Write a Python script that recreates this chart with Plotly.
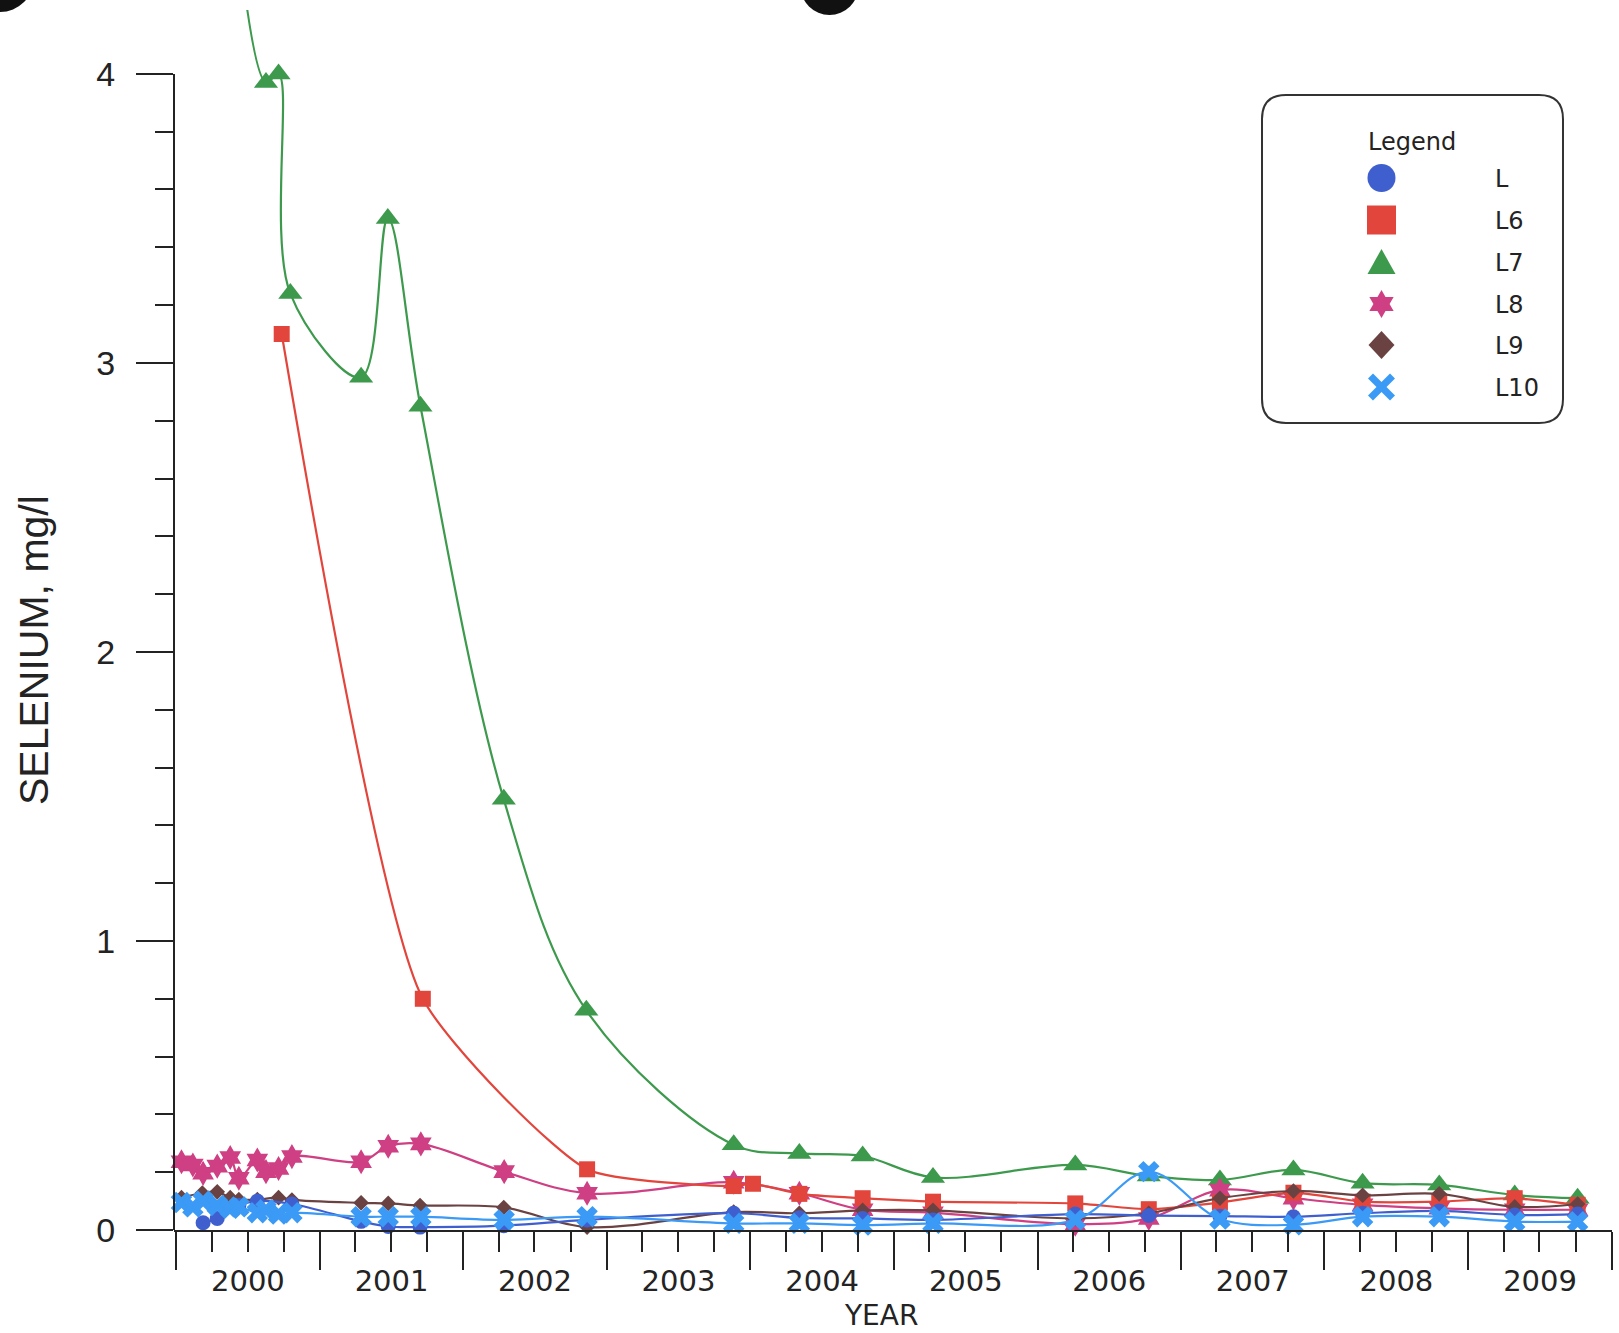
import math
import plotly.graph_objects as go

# ---------------- data: selenium concentration (mg/l) by sampling date ----------------
L_dates = ["2000-03-10", "2000-04-15", "2000-06-09", "2000-07-26", "2000-10-22", "2001-04-16",
           "2001-06-24", "2001-09-13", "2002-04-14", "2002-11-12", "2003-11-20", "2004-05-05",
           "2004-10-13", "2005-04-10", "2006-04-07", "2006-10-11", "2007-04-10", "2007-10-14",
           "2008-04-07", "2008-10-19", "2009-04-29", "2009-10-06"]
L_vals = [0.025, 0.04, 0.085, 0.1, 0.09, 0.03, 0.012, 0.01, 0.015, 0.035, 0.058, 0.042,
          0.04, 0.035, 0.055, 0.05, 0.048, 0.046, 0.058, 0.066, 0.052, 0.055]

L6_dates = ["2000-09-26", "2001-09-20", "2002-11-12", "2003-11-20", "2004-01-08", "2004-05-05",
            "2004-10-13", "2005-04-10", "2006-04-07", "2006-10-11", "2007-04-10", "2007-10-14",
            "2008-04-07", "2008-10-19", "2009-04-29", "2009-10-06"]
L6_vals = [3.10, 0.80, 0.21, 0.152, 0.16, 0.125, 0.11, 0.098, 0.092, 0.072, 0.095, 0.129,
           0.098, 0.098, 0.11, 0.087]

L7_dates = ["2000-05-28", "2000-08-17", "2000-09-18", "2000-10-18", "2001-04-16", "2001-06-23",
            "2001-09-14", "2002-04-14", "2002-11-10", "2003-11-20", "2004-05-05", "2004-10-13",
            "2005-04-10", "2006-04-07", "2006-10-11", "2007-04-10", "2007-10-14", "2008-04-07",
            "2008-10-19", "2009-04-29", "2009-10-06"]
L7_vals = [4.6, 3.97, 4.0, 3.24, 2.95, 3.50, 2.85, 1.49, 0.76, 0.295, 0.265, 0.256,
           0.182, 0.225, 0.187, 0.173, 0.208, 0.162, 0.156, 0.121, 0.11]

L8_dates = ["2000-01-15", "2000-02-13", "2000-03-10", "2000-04-15", "2000-05-18", "2000-06-09",
            "2000-07-26", "2000-08-17", "2000-09-18", "2000-10-22", "2001-04-16", "2001-06-24",
            "2001-09-15", "2002-04-15", "2002-11-12", "2003-11-20", "2004-05-05", "2004-10-13",
            "2005-04-10", "2006-04-07", "2006-10-11", "2007-04-10", "2007-10-14", "2008-04-07",
            "2008-10-19", "2009-04-29", "2009-10-06"]
L8_vals = [0.236, 0.225, 0.196, 0.221, 0.251, 0.179, 0.242, 0.202, 0.213, 0.254, 0.236, 0.29,
           0.298, 0.202, 0.127, 0.165, 0.127, 0.07, 0.06, 0.02, 0.04, 0.138, 0.11, 0.087,
           0.075, 0.07, 0.07]

L9_dates = ["2000-01-15", "2000-03-08", "2000-04-15", "2000-05-18", "2000-06-09", "2000-07-26",
            "2000-09-18", "2000-10-22", "2001-04-16", "2001-06-24", "2001-09-13", "2002-04-14",
            "2002-11-12", "2003-11-20", "2004-05-05", "2004-10-13", "2005-04-10", "2006-04-07",
            "2006-10-11", "2007-04-10", "2007-10-14", "2008-04-07", "2008-10-19", "2009-04-29",
            "2009-10-06"]
L9_vals = [0.112, 0.128, 0.132, 0.112, 0.105, 0.105, 0.112, 0.104, 0.094, 0.092, 0.085, 0.078,
           0.01, 0.062, 0.058, 0.068, 0.068, 0.04, 0.058, 0.11, 0.135, 0.12, 0.125, 0.08, 0.09]

L10_dates = ["2000-01-15", "2000-02-13", "2000-03-10", "2000-04-15", "2000-05-18", "2000-06-09",
             "2000-07-26", "2000-08-17", "2000-09-18", "2000-10-22", "2001-04-16", "2001-06-24",
             "2001-09-15", "2002-04-15", "2002-11-12", "2003-11-20", "2004-05-05", "2004-10-13",
             "2005-04-10", "2006-04-07", "2006-10-11", "2007-04-10", "2007-10-14", "2008-04-07",
             "2008-10-19", "2009-04-29", "2009-10-06"]
L10_vals = [0.095, 0.08, 0.1, 0.085, 0.075, 0.08, 0.06, 0.07, 0.055, 0.06, 0.046, 0.046,
            0.046, 0.035, 0.046, 0.023, 0.023, 0.017, 0.023, 0.035, 0.202, 0.038, 0.018, 0.046,
            0.046, 0.029, 0.029]

y_tick_vals = [0, 1, 2, 3, 4]
y_minor_vals = [0.2, 0.4, 0.6, 0.8, 1.2, 1.4, 1.6, 1.8, 2.2, 2.4, 2.6, 2.8, 3.2, 3.4, 3.6, 3.8]

# ---------------- styling ----------------
INK = "#232323"
styles = {
    "L":   dict(color="#3f5fcf", symbol="circle", size=15, smooth=1.0),
    "L6":  dict(color="#e2453c", symbol="square", size=16, smooth=0.55),
    "L7":  dict(color="#3d9a4d", symbol="triangle-up", size=21, smooth=1.0),
    "L8":  dict(color="#cf3f83", symbol="hexagram", size=19, smooth=1.0),
    "L9":  dict(color="#6b4242", symbol="diamond", size=12, smooth=1.0),
    "L10": dict(color="#3a9af5", symbol="x", size=19, smooth=1.0),
}
series = {
    "L": (L_dates, L_vals), "L6": (L6_dates, L6_vals), "L7": (L7_dates, L7_vals),
    "L8": (L8_dates, L8_vals), "L9": (L9_dates, L9_vals), "L10": (L10_dates, L10_vals),
}
draw_order = ["L7", "L8", "L6", "L9", "L", "L10"]
legend_order = ["L", "L6", "L7", "L8", "L9", "L10"]

fig = go.Figure()
for name in draw_order:
    d, v = series[name]
    st = styles[name]
    fig.add_trace(go.Scatter(
        x=d, y=v, name=name, mode="lines+markers",
        line=dict(color=st["color"], width=2.2, shape="spline", smoothing=st["smooth"]),
        marker=dict(color=st["color"], symbol=st["symbol"], size=st["size"], line=dict(width=0)),
        cliponaxis=False, showlegend=False,
    ))

# plot area in page pixels
PL, PR, PT, PB = 174, 1612, 10, 1230


def fx(px):
    return (px - PL) / (PR - PL)


def fy(py):
    return (PB - py) / (PB - PT)


def P(x, y):
    return f"{fx(x):.5f},{fy(y):.5f}"


def poly(points):
    return "M" + " L".join(P(x, y) for x, y in points) + " Z"


shapes = []
annotations = []

# y axis line running from 0 to 4 only
shapes.append(dict(type="line", xref="paper", yref="y", x0=0, x1=0, y0=0, y1=4,
                   line=dict(color=INK, width=2), layer="above"))

# dark blobs along the top edge of the sheet
for cx, cy, r in [(0, -22, 34), (829.5, -14, 29)]:
    shapes.append(dict(type="circle", xref="paper", yref="paper",
                       x0=fx(cx - r), x1=fx(cx + r), y0=fy(cy + r), y1=fy(cy - r),
                       fillcolor="#111111", line=dict(width=0), layer="above"))

# legend box with rounded corners
bx0, by0, bx1, by1, rr = 1262, 95, 1563, 423, 24
box = (f"M{P(bx0 + rr, by0)} L{P(bx1 - rr, by0)} Q{P(bx1, by0)} {P(bx1, by0 + rr)} "
       f"L{P(bx1, by1 - rr)} Q{P(bx1, by1)} {P(bx1 - rr, by1)} L{P(bx0 + rr, by1)} "
       f"Q{P(bx0, by1)} {P(bx0, by1 - rr)} L{P(bx0, by0 + rr)} Q{P(bx0, by0)} {P(bx0 + rr, by0)} Z")
shapes.append(dict(type="path", xref="paper", yref="paper", path=box,
                   fillcolor="white", line=dict(color="#333333", width=2), layer="above"))

annotations.append(dict(text="Legend", xref="paper", yref="paper", x=fx(1412), y=fy(142),
                        xanchor="center", yanchor="middle", showarrow=False,
                        font=dict(family="DejaVu Sans", size=24, color=INK)))

key_x = 1381.5
row_y = [178, 220, 262, 304, 345, 387]

for name, ky in zip(legend_order, row_y):
    col = styles[name]["color"]
    sym = styles[name]["symbol"]
    if sym == "circle":
        shapes.append(dict(type="circle", xref="paper", yref="paper",
                           x0=fx(key_x - 14), x1=fx(key_x + 14), y0=fy(ky + 14), y1=fy(ky - 14),
                           fillcolor=col, line=dict(width=0), layer="above"))
    elif sym == "square":
        shapes.append(dict(type="rect", xref="paper", yref="paper",
                           x0=fx(key_x - 14.5), x1=fx(key_x + 14.5), y0=fy(ky + 14.5), y1=fy(ky - 14.5),
                           fillcolor=col, line=dict(width=0), layer="above"))
    elif sym == "triangle-up":
        pts = [(key_x - 14, ky + 12), (key_x + 14, ky + 12), (key_x, ky - 13)]
        shapes.append(dict(type="path", xref="paper", yref="paper", path=poly(pts),
                           fillcolor=col, line=dict(width=0), layer="above"))
    elif sym == "hexagram":
        R, Ri = 14, 14 / math.sqrt(3)
        pts = []
        for k in range(12):
            ang = math.radians(90 + 30 * k)
            rad = R if k % 2 == 0 else Ri
            pts.append((key_x + rad * math.cos(ang), ky - rad * math.sin(ang)))
        shapes.append(dict(type="path", xref="paper", yref="paper", path=poly(pts),
                           fillcolor=col, line=dict(width=0), layer="above"))
    elif sym == "diamond":
        pts = [(key_x, ky - 14), (key_x + 13, ky), (key_x, ky + 14), (key_x - 13, ky)]
        shapes.append(dict(type="path", xref="paper", yref="paper", path=poly(pts),
                           fillcolor=col, line=dict(width=0), layer="above"))
    elif sym == "x":
        for sx in (-1, 1):
            shapes.append(dict(type="line", xref="paper", yref="paper",
                               x0=fx(key_x - 11 * sx), x1=fx(key_x + 11 * sx),
                               y0=fy(ky - 11), y1=fy(ky + 11),
                               line=dict(color=col, width=7), layer="above"))
    annotations.append(dict(text=name, xref="paper", yref="paper", x=fx(1493), y=fy(ky + 1),
                            xanchor="left", yanchor="middle", showarrow=False,
                            font=dict(family="DejaVu Sans", size=24, color=INK)))

# axis titles
annotations.append(dict(text="SELENIUM, mg/l", xref="paper", yref="paper", x=fx(34), y=fy(650),
                        textangle=-90, xanchor="center", yanchor="middle", showarrow=False,
                        font=dict(family="Liberation Sans", size=41, color=INK)))
annotations.append(dict(text="YEAR", xref="paper", yref="paper", x=fx(881), y=fy(1315),
                        xanchor="center", yanchor="middle", showarrow=False,
                        font=dict(family="DejaVu Sans", size=28, color=INK)))

fig.update_layout(
    width=1619, height=1333,
    margin=dict(l=PL, r=1619 - PR, t=PT, b=1333 - PB, pad=0),
    paper_bgcolor="white", plot_bgcolor="white",
    showlegend=False,
    shapes=shapes, annotations=annotations,
    xaxis=dict(
        type="date", range=["1999-12-27", "2010-01-01 12:00"],
        tick0="2000-01-01", dtick="M12", tickformat="%Y", ticklabelmode="period",
        ticks="outside", ticklen=38, tickwidth=2, tickcolor=INK,
        showline=True, linecolor=INK, linewidth=2, showgrid=False, zeroline=False,
        tickfont=dict(family="DejaVu Sans", size=29, color=INK),
        ticklabelstandoff=-14,
        minor=dict(dtick="M3", ticks="outside", ticklen=20, tickwidth=2, tickcolor=INK, showgrid=False),
    ),
    yaxis=dict(
        range=[0, 4.221], tickmode="array", tickvals=y_tick_vals,
        ticks="outside", ticklen=37, tickwidth=2, tickcolor=INK,
        showline=False, showgrid=False, zeroline=False,
        tickfont=dict(family="Liberation Sans", size=34, color=INK),
        ticklabelstandoff=14,
        minor=dict(tickmode="array", tickvals=y_minor_vals, ticks="outside", ticklen=18,
                   tickwidth=2, tickcolor=INK, showgrid=False),
    ),
)

fig.write_html("out.html")
